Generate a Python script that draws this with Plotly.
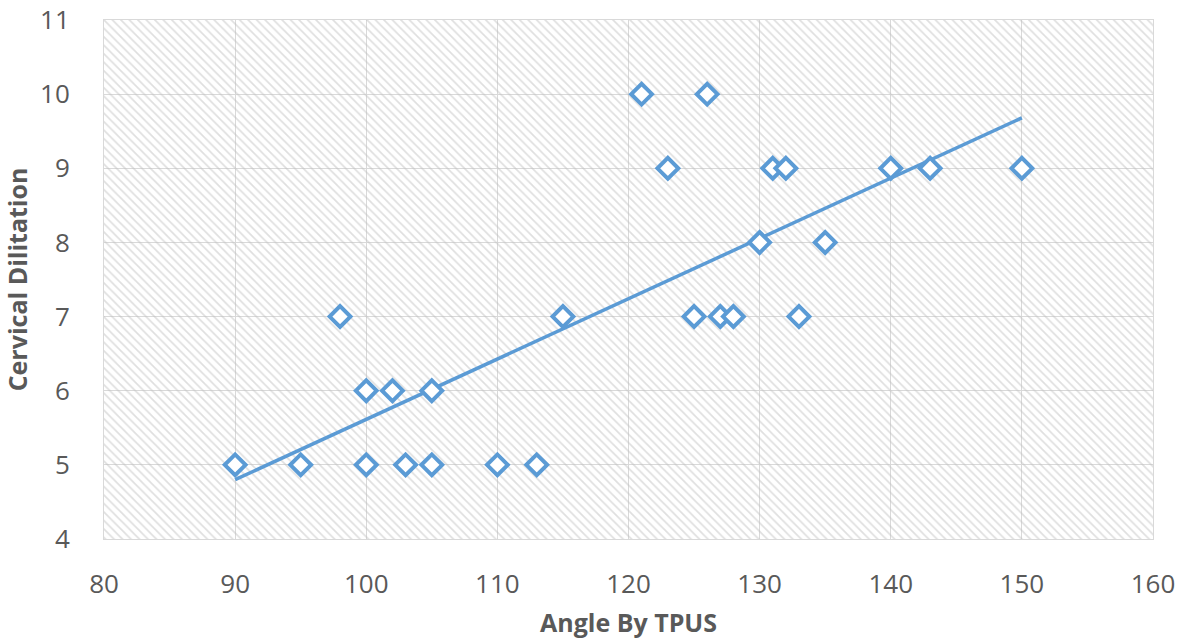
import numpy as np
import plotly.graph_objects as go

angle = [90, 95, 98, 100, 100, 102, 103, 105, 105, 110, 113, 115,
         121, 123, 125, 126, 127, 128, 130, 131, 132, 133, 135, 140, 143, 150]
dilation = [5, 5, 7, 6, 5, 6, 5, 6, 5, 5, 5, 7,
            10, 9, 7, 10, 7, 7, 8, 9, 9, 7, 8, 9, 9, 9]

x_range = [80, 160]
y_range = [4, 11]

slope, intercept = np.polyfit(angle, dilation, 1)
fit_x = [min(angle), max(angle)]
fit_y = [slope * v + intercept for v in fit_x]

blue = "#5b9bd5"
grid = "#d9d9d9"
text_gray = "#595959"

fig = go.Figure()

# hatched plot-area background
fig.add_trace(go.Scatter(
    x=[x_range[0], x_range[1], x_range[1], x_range[0], x_range[0]],
    y=[y_range[0], y_range[0], y_range[1], y_range[1], y_range[0]],
    mode="lines", line=dict(width=0), fill="toself",
    fillcolor="rgba(0,0,0,0)",
    fillpattern=dict(shape="\\", fgcolor="#c0c0c0", bgcolor="rgba(255,255,255,0)",
                     size=6, solidity=0.28),
    hoverinfo="skip", showlegend=False,
))

fig.add_trace(go.Scatter(
    x=fit_x, y=fit_y, mode="lines",
    line=dict(color=blue, width=3.5), showlegend=False,
))

fig.add_trace(go.Scatter(
    x=angle, y=dilation, mode="markers",
    marker=dict(symbol="diamond", size=16, color="white",
                line=dict(color=blue, width=4)),
    showlegend=False,
))

axis_common = dict(
    showgrid=True, gridcolor=grid, gridwidth=1,
    showline=True, linecolor=grid, linewidth=1, mirror=True,
    zeroline=False, ticks="", ticklabeloverflow="allow",
    tickfont=dict(family="Open Sans", size=26, color=text_gray),
)

fig.update_xaxes(range=x_range, dtick=10, ticklabelstandoff=22,
                 title=dict(text="<b>Angle By TPUS</b>", standoff=14,
                            font=dict(family="Open Sans", size=25, color=text_gray)),
                 **axis_common)
fig.update_yaxes(range=y_range, dtick=1, ticklabelstandoff=28,
                 title=dict(text="<b>Cervical Dilitation</b>", standoff=14,
                            font=dict(family="Open Sans", size=25, color=text_gray)),
                 **axis_common)

fig.update_layout(
    width=1181, height=644,
    margin=dict(l=104, r=28, t=20, b=105, autoexpand=False),
    plot_bgcolor="white", paper_bgcolor="white",
)

fig.write_html("out.html", config={"displayModeBar": False},
               post_script="document.body.style.margin='0px';")
